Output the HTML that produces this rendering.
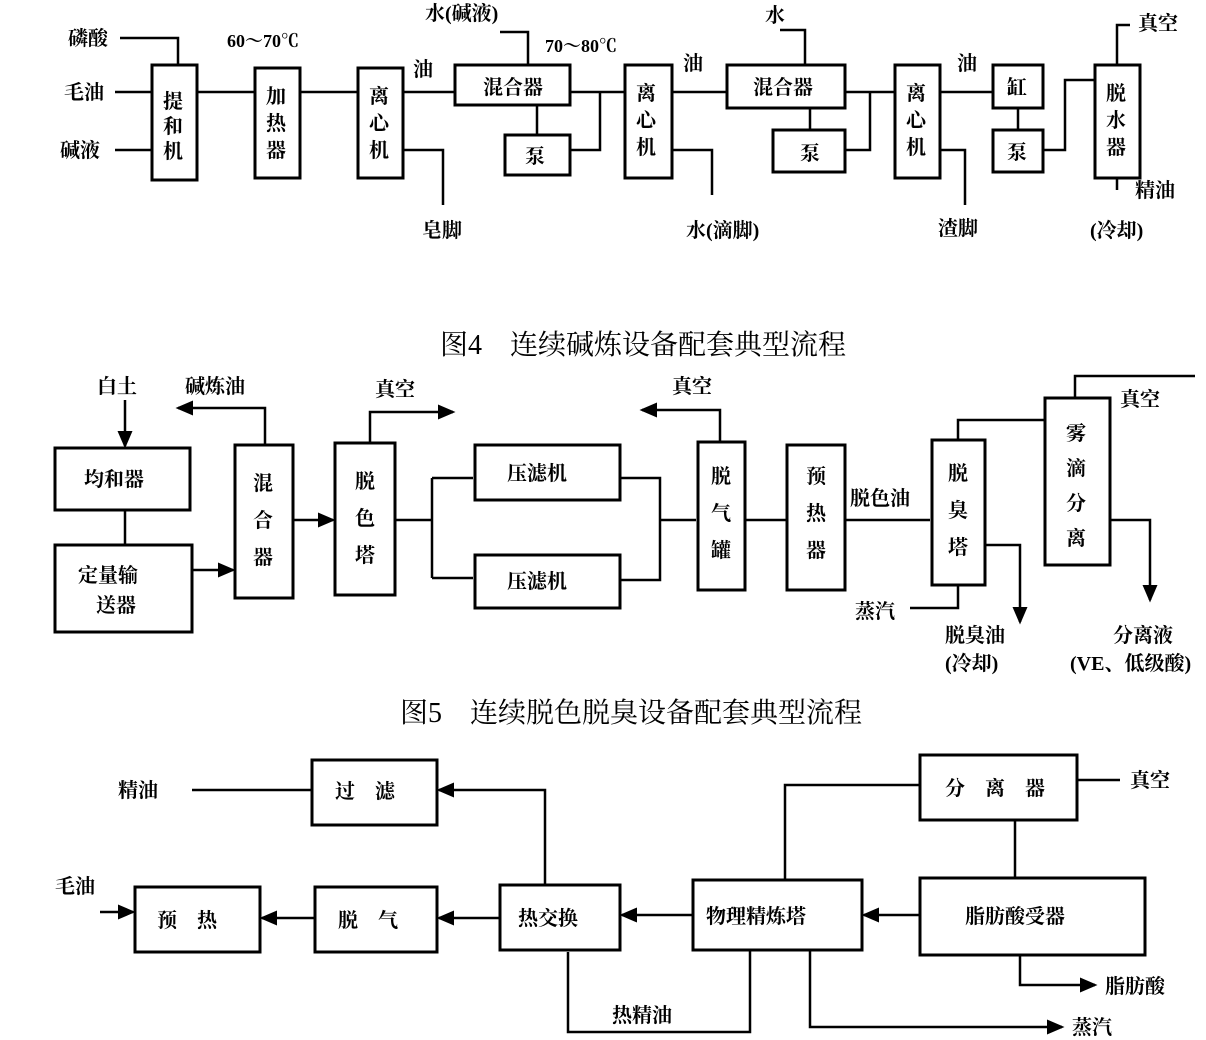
<!DOCTYPE html>
<html><head><meta charset="utf-8"><style>
html,body{margin:0;padding:0;background:#fff;}
svg{display:block;}
text{font-family:"Liberation Serif","Noto Serif CJK SC","Noto Sans CJK SC",serif;fill:#000;font-weight:bold;}
text.cap{font-weight:normal;}
</style></head><body>
<svg width="1206" height="1040" viewBox="0 0 1206 1040" xmlns="http://www.w3.org/2000/svg">
<defs><marker id="a" markerWidth="8" markerHeight="8" refX="6" refY="4" orient="auto"><path d="M0,1 L7,4 L0,7z" fill="#000"/></marker></defs>
<g fill="none" stroke="#000" stroke-width="3">
<rect x="152" y="65" width="45" height="115"/>
<rect x="255" y="68" width="45" height="110"/>
<rect x="358" y="68" width="45" height="110"/>
<rect x="455" y="65" width="115" height="40"/>
<rect x="505" y="135" width="65" height="40"/>
<rect x="625" y="65" width="47" height="113"/>
<rect x="727" y="65" width="118" height="43"/>
<rect x="773" y="130" width="72" height="42"/>
<rect x="895" y="65" width="45" height="113"/>
<rect x="993" y="65" width="50" height="43"/>
<rect x="993" y="130" width="50" height="42"/>
<rect x="1095" y="65" width="45" height="113"/>
</g>
<g fill="none" stroke="#000" stroke-width="2.5">
<path d="M120 38H178V65M115 92H152M115 150H152M197 92H255M300 92H358M403 92H455M403 150H443V205"/>
<path d="M500 32H528V65M537 105V135M570 150H600V92H625M570 92H625M672 92H727M672 150H712V195"/>
<path d="M780 30H805V65M810 108V130M845 150H870V92H895M845 92H895M940 92H993M940 150H965V205"/>
<path d="M1018 108V130M1043 150H1065V80H1095M1117 65V25H1130M1117 178V190"/>
</g>
<g font-size="20">
<text x="68" y="45">磷酸</text><text x="64" y="99">毛油</text><text x="60" y="157">碱液</text>
<text x="163" y="108">提</text><text x="163" y="133">和</text><text x="163" y="158">机</text>
<text x="266" y="103">加</text><text x="266" y="130">热</text><text x="266" y="157">器</text>
<text x="369" y="103">离</text><text x="369" y="130">心</text><text x="369" y="157">机</text>
<text x="413" y="76">油</text><text x="422" y="237">皂脚</text>
<text x="425" y="20">水(碱液)</text>
<text x="483" y="94">混合器</text><text x="525" y="163">泵</text>
<text x="636" y="100">离</text><text x="636" y="127">心</text><text x="636" y="154">机</text>
<text x="683" y="70">油</text><text x="686" y="237">水(滴脚)</text>
<text x="765" y="22">水</text><text x="753" y="94">混合器</text><text x="800" y="160">泵</text>
<text x="906" y="100">离</text><text x="906" y="127">心</text><text x="906" y="154">机</text>
<text x="957" y="70">油</text><text x="938" y="235">渣脚</text>
<text x="1007" y="94">缸</text><text x="1007" y="159">泵</text>
<text x="1106" y="100">脱</text><text x="1106" y="127">水</text><text x="1106" y="154">器</text>
<text x="1138" y="30">真空</text><text x="1135" y="197">精油</text><text x="1090" y="237">(冷却)</text>
</g>
<g font-size="18"><text x="227" y="47">60～70℃</text><text x="545" y="52">70～80℃</text></g>
<text class="cap" x="440" y="354" font-size="28">图4　连续碱炼设备配套典型流程</text>

<g fill="none" stroke="#000" stroke-width="3">
<rect x="55" y="448" width="135" height="62"/>
<rect x="55" y="545" width="137" height="87"/>
<rect x="235" y="445" width="58" height="153"/>
<rect x="335" y="443" width="60" height="152"/>
<rect x="475" y="445" width="145" height="55"/>
<rect x="475" y="555" width="145" height="53"/>
<rect x="698" y="442" width="47" height="148"/>
<rect x="787" y="445" width="58" height="145"/>
<rect x="932" y="440" width="53" height="145"/>
<rect x="1045" y="398" width="65" height="167"/>
</g>
<g fill="none" stroke="#000" stroke-width="2.5">
<path d="M125 400V446" marker-end="url(#a)"/><path d="M125 510V545"/>
<path d="M192 570H233" marker-end="url(#a)"/>
<path d="M265 445V408H178" marker-end="url(#a)"/>
<path d="M293 520H333" marker-end="url(#a)"/>
<path d="M370 443V412H453" marker-end="url(#a)"/>
<path d="M395 520H432M432 478V578M432 478H473M432 578H473"/>
<path d="M620 478H660V580H620M660 520H696"/>
<path d="M720 442V410H642" marker-end="url(#a)"/>
<path d="M745 520H787M845 520H930"/>
<path d="M958 440V420H1045M1075 398V376H1195"/>
<path d="M958 585V608H910"/>
<path d="M985 545H1020V622" marker-end="url(#a)"/>
<path d="M1110 520H1150V600" marker-end="url(#a)"/>
</g>
<g font-size="20">
<text x="97" y="393">白土</text><text x="185" y="393">碱炼油</text><text x="375" y="396">真空</text>
<text x="84" y="486">均和器</text><text x="78" y="582">定量输</text><text x="96" y="612">送器</text>
<text x="253" y="490">混</text><text x="253" y="527">合</text><text x="253" y="564">器</text>
<text x="355" y="488">脱</text><text x="355" y="525">色</text><text x="355" y="562">塔</text>
<text x="507" y="480">压滤机</text><text x="507" y="588">压滤机</text>
<text x="672" y="393">真空</text>
<text x="711" y="483">脱</text><text x="711" y="520">气</text><text x="711" y="557">罐</text>
<text x="806" y="483">预</text><text x="806" y="520">热</text><text x="806" y="557">器</text>
<text x="850" y="505">脱色油</text>
<text x="948" y="480">脱</text><text x="948" y="517">臭</text><text x="948" y="554">塔</text>
<text x="1066" y="440">雾</text><text x="1066" y="475">滴</text><text x="1066" y="510">分</text><text x="1066" y="545">离</text>
<text x="1120" y="406">真空</text>
<text x="855" y="618">蒸汽</text><text x="945" y="642">脱臭油</text><text x="945" y="670">(冷却)</text>
<text x="1113" y="642">分离液</text><text x="1070" y="670">(VE、低级酸)</text>
</g>
<text class="cap" x="400" y="722" font-size="28">图5　连续脱色脱臭设备配套典型流程</text>

<g fill="none" stroke="#000" stroke-width="3">
<rect x="312" y="760" width="125" height="65"/>
<rect x="135" y="887" width="125" height="65"/>
<rect x="315" y="887" width="122" height="65"/>
<rect x="500" y="885" width="120" height="65"/>
<rect x="693" y="880" width="169" height="70"/>
<rect x="920" y="755" width="157" height="65"/>
<rect x="920" y="878" width="225" height="77"/>
</g>
<g fill="none" stroke="#000" stroke-width="2.5">
<path d="M312 790H192"/><path d="M545 885V790H439" marker-end="url(#a)"/>
<path d="M100 912H133" marker-end="url(#a)"/><path d="M315 918H262" marker-end="url(#a)"/>
<path d="M500 918H439" marker-end="url(#a)"/><path d="M693 915H622" marker-end="url(#a)"/>
<path d="M920 915H864" marker-end="url(#a)"/>
<path d="M785 880V785H920M1015 820V878M1077 780H1120"/>
<path d="M568 952V1032H750V950"/>
<path d="M810 950V1027H1062" marker-end="url(#a)"/>
<path d="M1020 955V985H1095" marker-end="url(#a)"/>
</g>
<g font-size="20">
<text x="118" y="797">精油</text><text x="335" y="798">过　滤</text>
<text x="55" y="893">毛油</text><text x="157" y="927">预　热</text><text x="338" y="927">脱　气</text>
<text x="518" y="925">热交换</text><text x="706" y="923">物理精炼塔</text>
<text x="945" y="795">分　离　器</text><text x="1130" y="787">真空</text>
<text x="965" y="923">脂肪酸受器</text><text x="1105" y="993">脂肪酸</text>
<text x="612" y="1022">热精油</text><text x="1072" y="1034">蒸汽</text>
</g>
</svg>
</body></html>
